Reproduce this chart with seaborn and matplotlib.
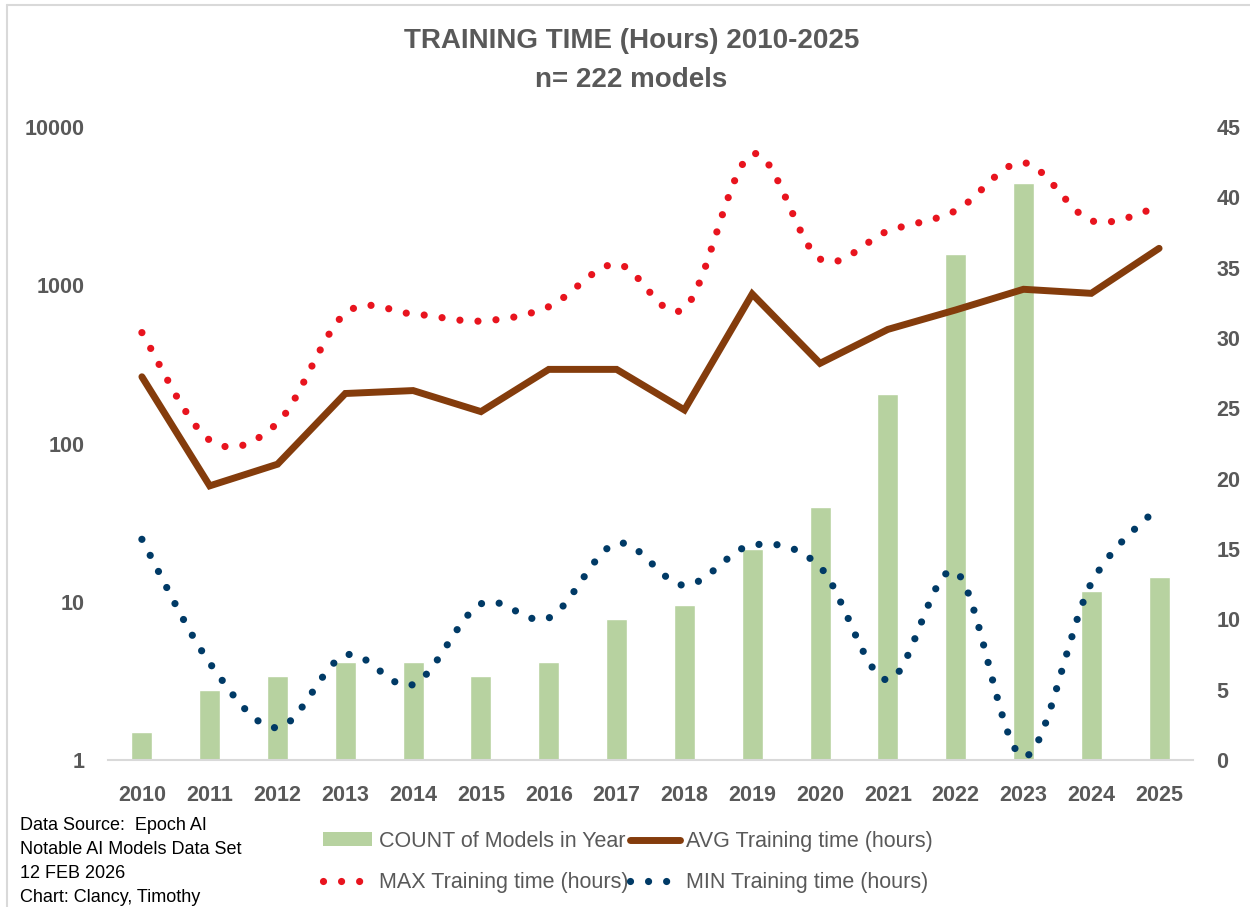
import numpy as np
import pandas as pd
import matplotlib
matplotlib.use("Agg")
import matplotlib.pyplot as plt
import seaborn as sns
from matplotlib.path import Path
from matplotlib.patches import PathPatch, Patch
from matplotlib.lines import Line2D
from matplotlib.ticker import FixedLocator, NullLocator, FuncFormatter

# --------------------------------------------------------------
# Data
# --------------------------------------------------------------

years = ["2010", "2011", "2012", "2013", "2014", "2015", "2016", "2017",
         "2018", "2019", "2020", "2021", "2022", "2023", "2024", "2025"]
model_count = [2, 5, 6, 7, 7, 6, 7, 10, 11, 15, 18, 26, 36, 41, 12, 13]
avg_hours = [264, 54, 74, 207, 216, 159, 294, 294, 163, 880, 321, 526, 698, 943, 889, 1711]
max_hours = [502, 105, 135, 664, 658, 594, 732, 1362, 715, 6750, 1465, 2200, 2960, 5950, 2560, 3140]
min_hours = [24.8, 4.1, 1.6, 4.6, 3.0, 9.7, 7.9, 23.4, 12.7, 22.8, 16.6, 3.2, 15.5, 1.05, 13.1, 40]

df = pd.DataFrame({"year": years, "count": model_count, "avg": avg_hours,
                   "max": max_hours, "min": min_hours})

# colours
GREY = "#595959"
BAR_GREEN = "#B7D2A0"
AVG_BROWN = "#843C0C"
MAX_RED = "#E8141E"
MIN_BLUE = "#003A66"

sns.set_style("white")
plt.rcParams["font.family"] = ["Liberation Sans", "DejaVu Sans"]


def smooth_path(values):
    # Excel-like smoothed line: cubic Bezier segments through each point,
    # built in (position, log10 value) space so it curves on screen like Excel
    pts = np.column_stack([np.arange(len(values)), np.log10(values)])
    n = len(pts)
    verts = [pts[0]]
    codes = [Path.MOVETO]
    for i in range(n - 1):
        p_prev = pts[max(i - 1, 0)]
        p0, p1 = pts[i], pts[i + 1]
        p_next = pts[min(i + 2, n - 1)]
        c1 = p0 + (p1 - p_prev) / 6.0
        c2 = p1 - (p_next - p0) / 6.0
        verts += [c1, c2, p1]
        codes += [Path.CURVE4] * 3
    verts = np.array(verts)
    verts[:, 1] = 10 ** verts[:, 1]
    return Path(verts, codes)


# --------------------------------------------------------------
# Figure
# --------------------------------------------------------------

fig = plt.figure(figsize=(12.5, 9.07), dpi=100)
ax = fig.add_axes([108 / 1250, 1 - 760 / 907, (1193 - 108) / 1250, (760 - 127) / 907])
ax2 = ax.twinx()

# bars (right axis, count of models)
sns.barplot(data=df, x="year", y="count", ax=ax2, color=BAR_GREEN,
            width=0.31, saturation=1)

# average line (left log axis)
sns.lineplot(data=df, x="year", y="avg", ax=ax, color=AVG_BROWN,
             linewidth=5, solid_capstyle="round", solid_joinstyle="miter",
             sort=False)

# smoothed dotted max / min lines
dot_style = (0, (0.001, 2.5))
dot_lw = 5.2
for vals, col in [(max_hours, MAX_RED), (min_hours, MIN_BLUE)]:
    ax.add_patch(PathPatch(smooth_path(vals), facecolor="none", edgecolor=col,
                           linewidth=dot_lw, linestyle=dot_style, capstyle="round"))

# keep the line axis above the bar axis
ax.set_zorder(ax2.get_zorder() + 1)
ax.patch.set_visible(False)

# left log axis
ax.set_yscale("log")
ax.set_ylim(1, 10000)
ax.yaxis.set_major_locator(FixedLocator([1, 10, 100, 1000, 10000]))
ax.yaxis.set_minor_locator(NullLocator())
ax.yaxis.set_major_formatter(FuncFormatter(lambda v, p: f"{v:.0f}"))
ax.set_xlim(-0.5, 15.5)
ax.set_xticks(range(len(years)))
ax.set_xticklabels(years)
ax.set_xlabel("")
ax.set_ylabel("")
ax.tick_params(axis="both", length=0, labelsize=15.5, labelcolor=GREY)
ax.tick_params(axis="y", pad=17)
ax.tick_params(axis="x", pad=18)
for lab in ax.get_xticklabels() + ax.get_yticklabels():
    lab.set_fontweight("bold")

# right count axis
ax2.set_ylim(0, 45)
ax2.set_yticks(range(0, 46, 5))
ax2.set_ylabel("")
ax2.tick_params(axis="y", length=0, labelsize=15.5, labelcolor=GREY, pad=17)
for lab in ax2.get_yticklabels():
    lab.set_fontweight("bold")

for a in (ax, ax2):
    for side in ("left", "right", "top"):
        a.spines[side].set_visible(False)
    a.spines["bottom"].set_color("#D9D9D9")
    a.spines["bottom"].set_linewidth(1.5)
ax2.spines["bottom"].set_visible(False)

# title
fig.text(0.505, 1 - 41 / 907, "TRAINING TIME (Hours) 2010-2025", ha="center",
         va="center", fontsize=20, fontweight="bold", color=GREY)
fig.text(0.505, 1 - 80 / 907, "n= 222 models", ha="center", va="center",
         fontsize=20, fontweight="bold", color=GREY)

# source note
note_lines = ["Data Source:  Epoch AI", "Notable AI Models Data Set",
              "12 FEB 2026", "Chart: Clancy, Timothy"]
for i, line in enumerate(note_lines):
    fig.text(20 / 1250, 1 - (825 + i * 24.3) / 907, line, ha="left", va="center",
             fontsize=13, color="black")

# legend
handles = [
    Patch(facecolor=BAR_GREEN, edgecolor="none"),
    Line2D([], [], color=MAX_RED, linewidth=dot_lw, linestyle=dot_style,
           dash_capstyle="round"),
    Line2D([], [], color=AVG_BROWN, linewidth=5, solid_capstyle="round"),
    Line2D([], [], color=MIN_BLUE, linewidth=dot_lw, linestyle=dot_style,
           dash_capstyle="round"),
]
labels = ["COUNT of Models in Year", "MAX Training time (hours)",
          "AVG Training time (hours)", "MIN Training time (hours)"]
fig.legend(handles, labels, loc="center", ncol=2,
           bbox_to_anchor=(628 / 1250, 1 - 862 / 907), frameon=False,
           fontsize=15.5, labelcolor=GREY, handlelength=2.3, handleheight=0.6,
           handletextpad=0.3, columnspacing=0.1, labelspacing=0.95, borderpad=0)

# outer chart border (left and top edges visible in the reference)
fig.add_artist(Line2D([7 / 1250, 7 / 1250], [0, 1 - 5 / 907], transform=fig.transFigure,
                      color="#D9D9D9", linewidth=1.5))
fig.add_artist(Line2D([7 / 1250, 1], [1 - 5 / 907, 1 - 5 / 907], transform=fig.transFigure,
                      color="#D9D9D9", linewidth=1.5))

fig.savefig("out.png", dpi=100, facecolor="white")
